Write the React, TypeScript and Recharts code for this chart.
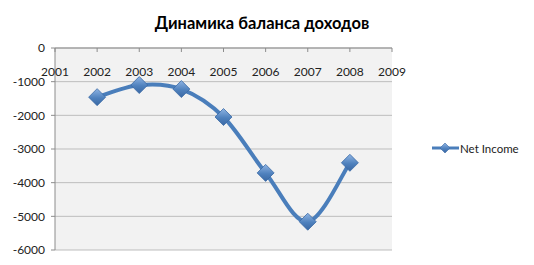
import { CartesianGrid, Line, LineChart, XAxis, YAxis } from "recharts";

const years = [2002, 2003, 2004, 2005, 2006, 2007, 2008];
const netIncome = [-1460, -1100, -1220, -2050, -3710, -5160, -3410];
const yearTicks = [2001, 2002, 2003, 2004, 2005, 2006, 2007, 2008, 2009];
const valueTicks = [0, -1000, -2000, -3000, -4000, -5000, -6000];

const data = years.map((year, i) => ({ year, netIncome: netIncome[i] }));

const LINE = "#4a7ebb";
const AXIS = "#8c8c8c";
const FONT = "Lato, 'Open Sans', sans-serif";

// Excel-like smoothed line (Catmull-Rom through every point)
const smoothCurve = (context: any) => {
  let pts: [number, number][] = [];
  return {
    areaStart() {},
    areaEnd() {},
    lineStart() {
      pts = [];
    },
    lineEnd() {
      const n = pts.length;
      if (!n) return;
      context.moveTo(pts[0][0], pts[0][1]);
      for (let i = 0; i < n - 1; i++) {
        const p0 = pts[Math.max(i - 1, 0)];
        const p1 = pts[i];
        const p2 = pts[i + 1];
        const p3 = pts[Math.min(i + 2, n - 1)];
        context.bezierCurveTo(
          p1[0] + (p2[0] - p0[0]) / 6,
          p1[1] + (p2[1] - p0[1]) / 6,
          p2[0] - (p3[0] - p1[0]) / 6,
          p2[1] - (p3[1] - p1[1]) / 6,
          p2[0],
          p2[1]
        );
      }
    },
    point(x: number, y: number) {
      pts.push([+x, +y]);
    },
  };
};

const Diamond = (props: any) => {
  const { cx, cy, index } = props;
  if (cx == null || cy == null) return null;
  const s = 8.5;
  return (
    <polygon
      key={`d-${index}`}
      points={`${cx},${cy - s} ${cx + s},${cy} ${cx},${cy + s} ${cx - s},${cy}`}
      fill="url(#diamondFill)"
      stroke="#3a6aa6"
      strokeWidth={0.8}
    />
  );
};

export default function App() {
  return (
    <div
      style={{
        position: "absolute",
        left: 0,
        top: 0,
        width: 534,
        height: 265,
        background: "#fff",
        fontFamily: FONT,
      }}
    >
      <div
        style={{
          position: "absolute",
          left: 0,
          width: 524,
          top: 13,
          textAlign: "center",
          fontSize: 16.5,
          fontWeight: 700,
          color: "#000",
        }}
      >
        Динамика баланса доходов
      </div>

      <LineChart width={534} height={265} data={data} margin={{ top: 48, right: 142, bottom: 15, left: 0 }}>
        <defs>
          <linearGradient id="diamondFill" x1="0" y1="0" x2="0" y2="1">
            <stop offset="0%" stopColor="#8fb4e3" />
            <stop offset="55%" stopColor="#4f81bd" />
            <stop offset="100%" stopColor="#3a68a3" />
          </linearGradient>
        </defs>
        <CartesianGrid vertical={false} fill="#f2f2f2" stroke="#bdbdbd" />
        <XAxis
          dataKey="year"
          type="number"
          domain={[2001, 2009]}
          ticks={yearTicks}
          orientation="top"
          mirror
          height={1}
          stroke={AXIS}
          tickSize={4}
          tickMargin={15}
          tick={{ fill: "#222", fontSize: 12, fontFamily: FONT }}
        />
        <YAxis
          type="number"
          domain={[-6000, 0]}
          ticks={valueTicks}
          width={55}
          stroke={AXIS}
          tickSize={4}
          tickMargin={6}
          tick={{ fill: "#222", fontSize: 12, fontFamily: FONT }}
        />
        <Line
          dataKey="netIncome"
          name="Net Income"
          type={smoothCurve as any}
          stroke={LINE}
          strokeWidth={4}
          dot={Diamond}
          activeDot={false}
          isAnimationActive={false}
        />
      </LineChart>

      <div
        style={{
          position: "absolute",
          left: 430,
          top: 140,
          display: "flex",
          alignItems: "center",
          fontSize: 11.5,
          color: "#222",
        }}
      >
        <svg width={30} height={16}>
          <defs>
            <linearGradient id="legendFill" x1="0" y1="0" x2="0" y2="1">
              <stop offset="0%" stopColor="#8fb4e3" />
              <stop offset="55%" stopColor="#4f81bd" />
              <stop offset="100%" stopColor="#3a68a3" />
            </linearGradient>
          </defs>
          <line x1={2} y1={8} x2={29} y2={8} stroke={LINE} strokeWidth={3} />
          <polygon points="15,3 20,8 15,13 10,8" fill="url(#legendFill)" stroke="#3a6aa6" strokeWidth={0.6} />
        </svg>
        <span>Net Income</span>
      </div>
    </div>
  );
}
